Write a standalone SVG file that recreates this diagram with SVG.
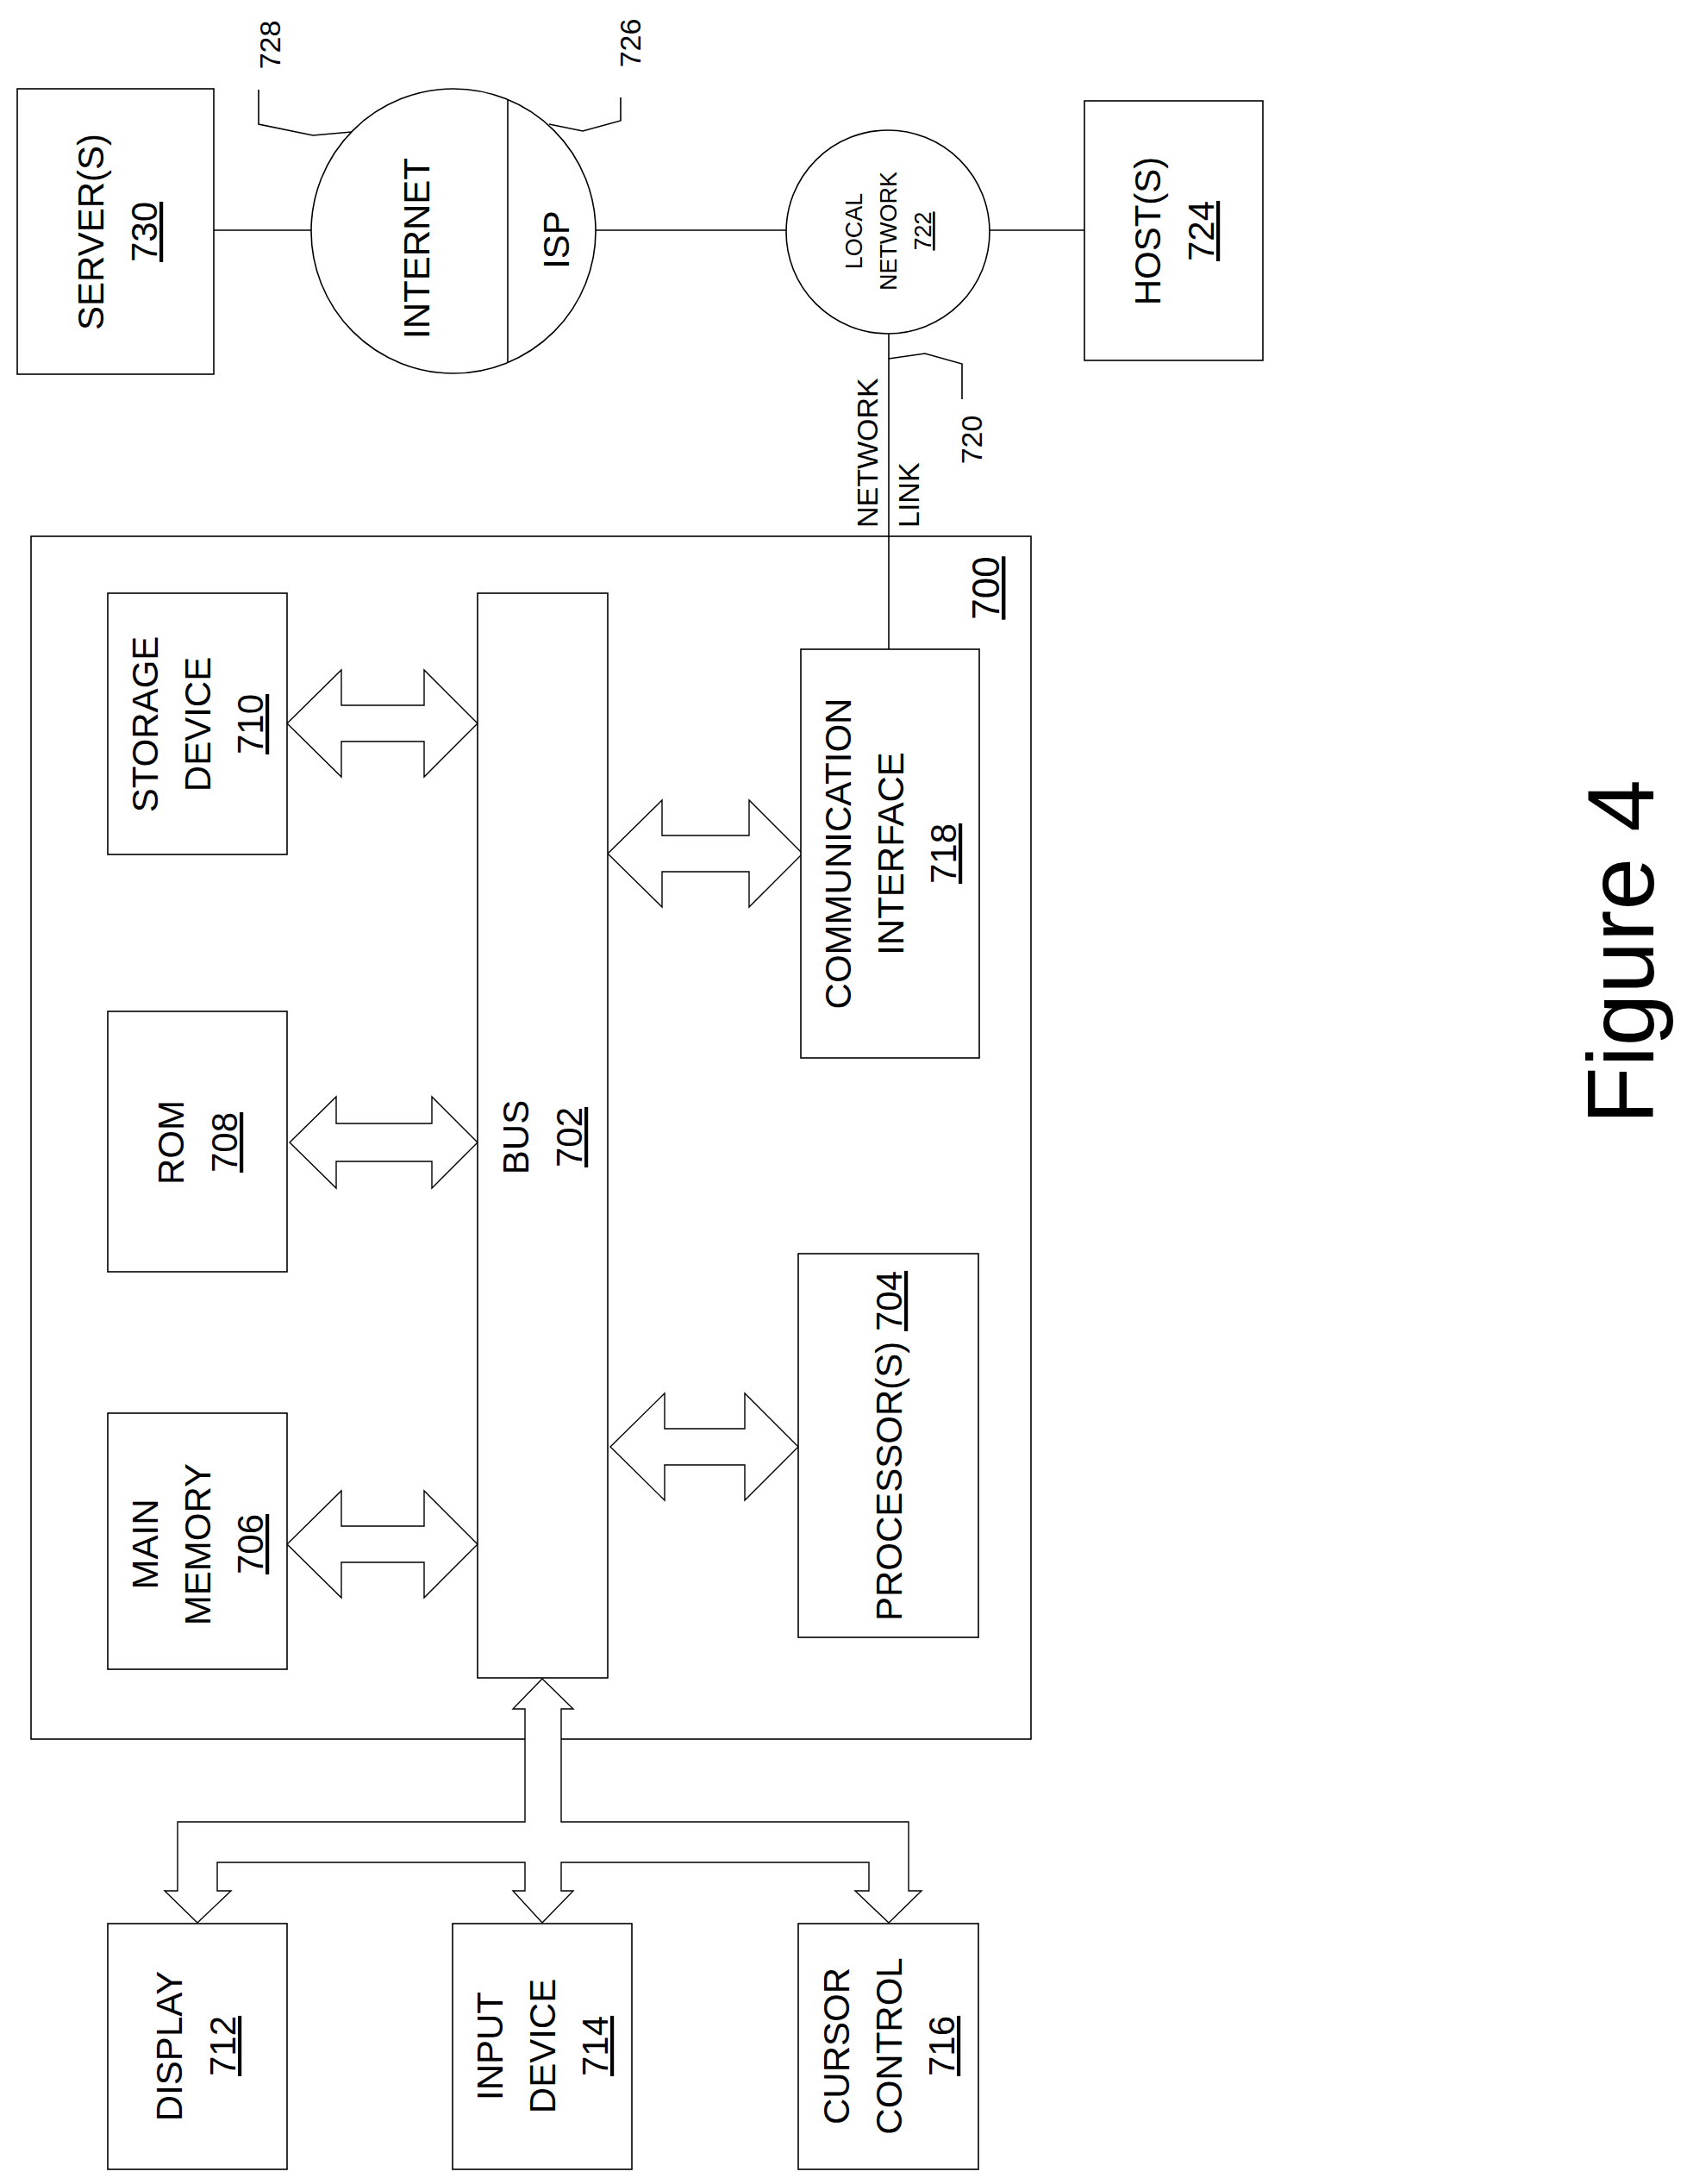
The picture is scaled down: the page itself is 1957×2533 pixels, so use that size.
<svg xmlns="http://www.w3.org/2000/svg" width="1957" height="2533" viewBox="0 0 1957 2533">
<style>
.b{fill:#fff;stroke:#000;stroke-width:1.6}
.o{fill:none;stroke:#000;stroke-width:1.6}
.c{fill:none;stroke:#000;stroke-width:1.6}
.a{fill:#fff;stroke:#000;stroke-width:1.4}
text{font-family:"Liberation Sans",Arial,sans-serif;fill:#000;text-anchor:middle}
.t{font-size:42px}
.u{text-decoration:underline}
</style>
<rect width="1957" height="2533" fill="#fff"/>
<g id="computer-700">
<rect class="o" x="36" y="622" width="1160" height="1395"/>
<text class="u" transform="translate(1143,682) rotate(-90)" style="font-size:44px" y="16">700</text>
</g>
<g id="connectors">
<line class="c" x1="248" y1="267" x2="361" y2="267"/>
<line class="c" x1="691" y1="267" x2="912" y2="267"/>
<line class="c" x1="1148" y1="267" x2="1258" y2="267"/>
<line class="c" x1="1031" y1="387" x2="1031" y2="753"/>
<path class="c" d="M1031 416 L1073 410 L1116 422 L1116 463"/>
<path class="c" d="M408 153 L363 157 L300 144 L300 104"/>
<path class="c" d="M637 144 L676 152 L720 140 L720 113"/>
<polygon class="a" points="333,839 396,777 396,818 492,818 492,777 554,839 492,901 492,860 396,860 396,901"/>
<polygon class="a" points="336,1325 390,1272 390,1303 501,1303 501,1272 554,1325 501,1378 501,1347 390,1347 390,1378"/>
<polygon class="a" points="333,1791 396,1729 396,1770 492,1770 492,1729 554,1791 492,1853 492,1812 396,1812 396,1853"/>
<polygon class="a" points="705,990 768,928 768,969 869,969 869,928 931,990 869,1052 869,1011 768,1011 768,1052"/>
<polygon class="a" points="708,1678 771,1616 771,1657 864,1657 864,1616 926,1678 864,1740 864,1699 771,1699 771,1740"/>
<polygon class="a" points="629,1947 665,1982 651,1982 651,2113 1054,2113 1054,2193 1069,2193 1031,2230 992,2193 1008,2193 1008,2160 651,2160 651,2193 665,2193 629,2230 595,2193 609,2193 609,2160 252,2160 252,2193 268,2193 229,2230 191,2193 206,2193 206,2113 609,2113 609,1982 595,1982"/>
<text transform="translate(1006,612) rotate(-90)" style="font-size:34px;text-anchor:start" y="12">NETWORK</text>
<text transform="translate(1054,612) rotate(-90)" style="font-size:34px;text-anchor:start" y="12">LINK</text>
<text transform="translate(1127,510) rotate(-90)" style="font-size:34px" y="12">720</text>
<text transform="translate(313,52) rotate(-90)" style="font-size:34px" y="12">728</text>
<text transform="translate(731,50) rotate(-90)" style="font-size:34px" y="12">726</text>
</g>
<g id="server-730">
<rect class="b" x="20" y="103" width="228" height="331"/>
<text class="t" transform="translate(136,269) rotate(-90)"><tspan x="0" y="-16">SERVER(S)</tspan><tspan class="u" x="0" y="46">730</tspan></text>
</g>
<g id="internet-728">
<circle class="b" cx="526" cy="268" r="165"/>
<line class="c" x1="589" y1="116" x2="589" y2="421"/>
<text class="t" transform="translate(483,288) rotate(-90)" y="15">INTERNET</text>
<text class="t" transform="translate(645,278) rotate(-90)" y="15">ISP</text>
</g>
<g id="local-network-722">
<circle class="b" cx="1030" cy="269" r="118"/>
<text transform="translate(1030,268) rotate(-90)" style="font-size:27px"><tspan x="0" y="-30">LOCAL</tspan><tspan x="0" y="10">NETWORK</tspan><tspan class="u" x="0" y="50">722</tspan></text>
</g>
<g id="host-724">
<rect class="b" x="1258" y="117" width="207" height="301"/>
<text class="t" transform="translate(1362,268) rotate(-90)"><tspan x="0" y="-16">HOST(S)</tspan><tspan class="u" x="0" y="46">724</tspan></text>
</g>
<g id="storage-710">
<rect class="b" x="125" y="688" width="208" height="303"/>
<text class="t" transform="translate(229,840) rotate(-90)"><tspan x="0" y="-46">STORAGE</tspan><tspan x="0" y="15">DEVICE</tspan><tspan class="u" x="0" y="76">710</tspan></text>
</g>
<g id="rom-708">
<rect class="b" x="125" y="1173" width="208" height="302"/>
<text class="t" transform="translate(229,1325) rotate(-90)"><tspan x="0" y="-16">ROM</tspan><tspan class="u" x="0" y="46">708</tspan></text>
</g>
<g id="main-memory-706">
<rect class="b" x="125" y="1639" width="208" height="297"/>
<text class="t" transform="translate(229,1791) rotate(-90)"><tspan x="0" y="-46">MAIN</tspan><tspan x="0" y="15">MEMORY</tspan><tspan class="u" x="0" y="76">706</tspan></text>
</g>
<g id="bus-702">
<rect class="b" x="554" y="688" width="151" height="1258"/>
<text class="t" transform="translate(629,1319) rotate(-90)"><tspan x="0" y="-16">BUS</tspan><tspan class="u" x="0" y="46">702</tspan></text>
</g>
<g id="comm-718">
<rect class="b" x="929" y="753" width="207" height="474"/>
<text class="t" transform="translate(1033,990) rotate(-90)"><tspan x="0" y="-46">COMMUNICATION</tspan><tspan x="0" y="15">INTERFACE</tspan><tspan class="u" x="0" y="76">718</tspan></text>
</g>
<g id="processor-704">
<rect class="b" x="926" y="1454" width="209" height="445"/>
<text class="t" transform="translate(1031,1677) rotate(-90)" y="15">PROCESSOR(S) <tspan class="u">704</tspan></text>
</g>
<g id="display-712">
<rect class="b" x="125" y="2231" width="208" height="285"/>
<text class="t" transform="translate(227,2373) rotate(-90)"><tspan x="0" y="-16">DISPLAY</tspan><tspan class="u" x="0" y="46">712</tspan></text>
</g>
<g id="input-714">
<rect class="b" x="525" y="2231" width="208" height="285"/>
<text class="t" transform="translate(629,2373) rotate(-90)"><tspan x="0" y="-46">INPUT</tspan><tspan x="0" y="15">DEVICE</tspan><tspan class="u" x="0" y="76">714</tspan></text>
</g>
<g id="cursor-716">
<rect class="b" x="926" y="2231" width="209" height="285"/>
<text class="t" transform="translate(1031,2373) rotate(-90)"><tspan x="0" y="-46">CURSOR</tspan><tspan x="0" y="15">CONTROL</tspan><tspan class="u" x="0" y="76">716</tspan></text>
</g>
<g id="caption">
<text transform="translate(1879,1104) rotate(-90)" style="font-size:109px" y="39">Figure 4</text>
</g>
</svg>
